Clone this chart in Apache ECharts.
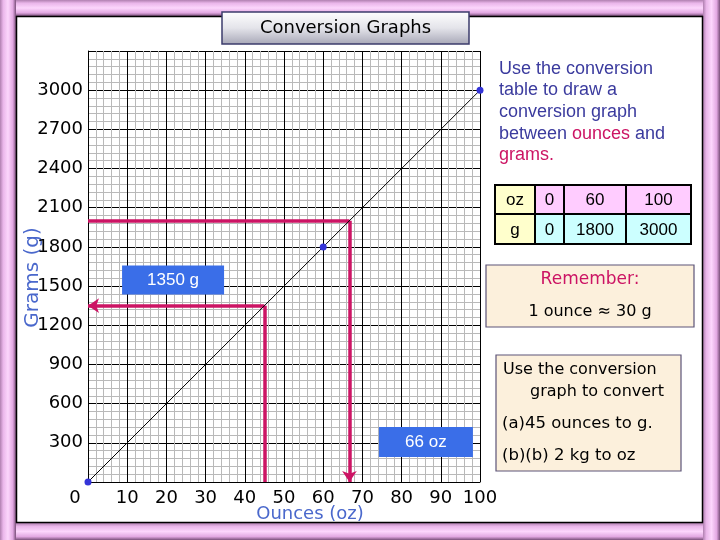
<!DOCTYPE html>
<html>
<head>
<meta charset="utf-8">
<script src="https://cdn.jsdelivr.net/npm/echarts@6/dist/echarts.min.js"></script>
<style>html,body{margin:0;padding:0;background:#fff}#c{width:720px;height:540px}</style>
</head>
<body>
<div id="c"></div>
<script>
// ---- data ----
var tableOz = [0, 60, 100];
var tableG = [0, 1800, 3000];
var xTicks = [0, 10, 20, 30, 40, 50, 60, 70, 80, 90, 100];
var yTicks = [0, 300, 600, 900, 1200, 1500, 1800, 2100, 2400, 2700, 3000];
var questionOz = [45, 66.7];   // (a) 45 oz, (b) result in oz
var questionG = [1350, 2000];  // (a) result in g, (b) 2 kg
var answerLabels = ['1350 g', '66 oz'];

var FONT = 'DejaVu Sans';
var SANS = 'Liberation Sans';
var PINK = '#cc1464';
var BLUE_TXT = '#3b3b9e';

var chart = echarts.init(document.getElementById('c'), null, {renderer: 'canvas'});

var linePts = tableOz.map(function (o, i) { return [o, tableG[i]]; });

function tubeGrad(horizontal) {
  return new echarts.graphic.LinearGradient(0, 0, horizontal ? 1 : 0, horizontal ? 0 : 1, [
    {offset: 0, color: '#b080b0'},
    {offset: 0.2, color: '#eab6ea'},
    {offset: 0.5, color: '#fcd6fc'},
    {offset: 0.8, color: '#e2a8e2'},
    {offset: 1, color: '#7a507a'}
  ]);
}

// table graphic built from arrays
var colX = [495, 535, 564, 626, 691];
var rowY = [185, 214, 244];
var tableEls = [];
var rowsData = [['oz'].concat(tableOz), ['g'].concat(tableG)];
var rowFill = ['#ffccff', '#ccffff'];
for (var r = 0; r < 2; r++) {
  for (var c = 0; c < 4; c++) {
    tableEls.push({
      type: 'rect', z: 10,
      shape: {x: colX[c], y: rowY[r], width: colX[c + 1] - colX[c], height: rowY[r + 1] - rowY[r]},
      style: {fill: c === 0 ? '#ffffcc' : rowFill[r], stroke: '#000', lineWidth: 2}
    });
    tableEls.push({
      type: 'text', z: 11,
      style: {
        text: String(rowsData[r][c]), x: (colX[c] + colX[c + 1]) / 2, y: (rowY[r] + rowY[r + 1]) / 2 + 1,
        textAlign: 'center', textVerticalAlign: 'middle', fill: '#000', font: '17px ' + SANS
      }
    });
  }
}

var graphics = [
  // frame
  {type: 'rect', z: 1, shape: {x: 0, y: 0, width: 720, height: 16}, style: {fill: tubeGrad(false)}},
  {type: 'rect', z: 1, shape: {x: 0, y: 523, width: 720, height: 17}, style: {fill: tubeGrad(false)}},
  {type: 'rect', z: 2, shape: {x: 0, y: 0, width: 16, height: 540}, style: {fill: tubeGrad(true)}},
  {type: 'rect', z: 2, shape: {x: 703, y: 0, width: 17, height: 540}, style: {fill: tubeGrad(true)}},
  {type: 'rect', z: 3, shape: {x: 16.5, y: 16.5, width: 686, height: 506}, style: {fill: null, stroke: '#000', lineWidth: 1.5}},
  // title
  {type: 'rect', z: 20, shape: {x: 222, y: 12, width: 247, height: 32},
    style: {fill: new echarts.graphic.LinearGradient(0, 0, 0, 1, [
      {offset: 0, color: '#ffffff'}, {offset: 0.5, color: '#e4e4ea'}, {offset: 1, color: '#a6a6b6'}]),
      stroke: '#3c3c6c', lineWidth: 1.5}},
  {type: 'text', z: 21, style: {text: 'Conversion Graphs', x: 345.5, y: 28, textAlign: 'center', textVerticalAlign: 'middle',
    fill: '#000', font: '18px ' + FONT}},
  // instructions
  {type: 'text', z: 10, style: {
    text: 'Use the conversion\ntable to draw a\nconversion graph\nbetween {r|ounces} and\n{r|grams.}',
    x: 499, y: 58, fill: BLUE_TXT, font: '18px ' + SANS, lineHeight: 21.6,
    rich: {r: {fill: PINK, font: '18px ' + SANS, lineHeight: 21.6}}
  }},
  // remember box
  {type: 'rect', z: 10, shape: {x: 486, y: 265, width: 208, height: 62}, style: {fill: '#fcf0dc', stroke: '#5c5478', lineWidth: 1.2}},
  {type: 'text', z: 11, style: {text: 'Remember:', x: 590, y: 280, textAlign: 'center', textVerticalAlign: 'middle', fill: PINK, font: '17px ' + FONT}},
  {type: 'text', z: 11, style: {text: '1 ounce \u2248 30 g', x: 590, y: 312, textAlign: 'center', textVerticalAlign: 'middle', fill: '#000', font: '16px ' + FONT}},
  // question box
  {type: 'rect', z: 10, shape: {x: 496, y: 355, width: 185, height: 116}, style: {fill: '#fcf0dc', stroke: '#5c5478', lineWidth: 1.2}},
  {type: 'text', z: 11, style: {text: 'Use the conversion', x: 503, y: 370, textVerticalAlign: 'middle', fill: '#000', font: '16px ' + FONT}},
  {type: 'text', z: 11, style: {text: 'graph to convert', x: 530, y: 392, textVerticalAlign: 'middle', fill: '#000', font: '16px ' + FONT}},
  {type: 'text', z: 11, style: {text: '(a)' + questionOz[0] + ' ounces to g.', x: 502, y: 424, textVerticalAlign: 'middle', fill: '#000', font: '16.5px ' + FONT}},
  {type: 'text', z: 11, style: {text: '(b)(b) ' + (questionG[1] / 1000) + ' kg to oz', x: 502, y: 456, textVerticalAlign: 'middle', fill: '#000', font: '16.5px ' + FONT}}
].concat(tableEls);

var arrowEnd = function (a, b, arrow) {
  return [{coord: a, symbol: 'none'}, {coord: b, symbol: arrow ? 'arrow' : 'none', symbolSize: [11, 11]}];
};

var option = {
  animation: false,
  backgroundColor: '#ffffff',
  grid: {left: 88, right: 240, top: 51, bottom: 58, containLabel: false},
  xAxis: {
    type: 'value', min: 0, max: 100, interval: 10,
    name: 'Ounces (oz)', nameLocation: 'middle', nameGap: 23, nameMoveOverlap: false,
    nameTextStyle: {color: '#4a68cc', fontFamily: FONT, fontSize: 18, padding: [0, 0, 0, 52]},
    axisLine: {show: true, lineStyle: {color: '#000', width: 1}},
    axisTick: {show: false},
    axisLabel: {
      color: '#000', fontFamily: FONT, fontSize: 18, margin: 7,
      formatter: function (v) { return xTicks.indexOf(v) === 0 ? '{z|' + v + '}' : String(v); },
      rich: {z: {fontFamily: FONT, fontSize: 18, color: '#000', padding: [0, 26, 0, 0]}}
    },
    splitLine: {show: true, lineStyle: {color: '#000', width: 1}},
    minorTick: {show: false, splitNumber: 5},
    minorSplitLine: {show: true, lineStyle: {color: '#b9b9b9', width: 1}}
  },
  yAxis: {
    type: 'value', min: 0, max: 3300, interval: 300,
    name: 'Grams (g)', nameLocation: 'middle', nameGap: 45, nameRotate: 90, nameMoveOverlap: false,
    nameTextStyle: {color: '#4a68cc', fontFamily: FONT, fontSize: 20, padding: [0, 22, 0, 0]},
    axisLine: {show: true, lineStyle: {color: '#000', width: 1}},
    axisTick: {show: false},
    axisLabel: {
      color: '#000', fontFamily: FONT, fontSize: 18, margin: 5,
      formatter: function (v) { return (v === 0 || yTicks.indexOf(v) < 0) ? '' : String(v); }
    },
    splitLine: {show: true, lineStyle: {color: '#000', width: 1}},
    minorTick: {show: false, splitNumber: 5},
    minorSplitLine: {show: true, lineStyle: {color: '#b9b9b9', width: 1}}
  },
  series: [
    {
      type: 'line', data: linePts, z: 5,
      symbol: 'circle', symbolSize: 7, showSymbol: true,
      lineStyle: {color: '#000', width: 1},
      itemStyle: {color: '#3434d8'}
    },
    {
      type: 'line', data: [], z: 4, silent: true,
      markLine: {
        silent: true, animation: false,
        lineStyle: {color: PINK, width: 3.5, type: 'solid'},
        label: {show: false},
        data: [
          arrowEnd([questionOz[0], 0], [questionOz[0], questionG[0]], false),
          arrowEnd([questionOz[0], questionG[0]], [0, questionG[0]], true),
          arrowEnd([0, questionG[1]], [questionOz[1], questionG[1]], false),
          arrowEnd([questionOz[1], questionG[1]], [questionOz[1], 0], true)
        ]
      },
      markPoint: {
        silent: true, animation: false,
        symbol: 'rect',
        itemStyle: {color: '#3a6ee8'},
        label: {show: true, color: '#fff', fontFamily: SANS, fontSize: 17, formatter: '{b}'},
        data: [
          {name: answerLabels[0], coord: [21.7, 1546], symbolSize: [102, 29]},
          {name: answerLabels[1], coord: [86.2, 306], symbolSize: [94, 30]}
        ]
      }
    }
  ],
  graphic: graphics
};
chart.setOption(option);
</script>
</body>
</html>
